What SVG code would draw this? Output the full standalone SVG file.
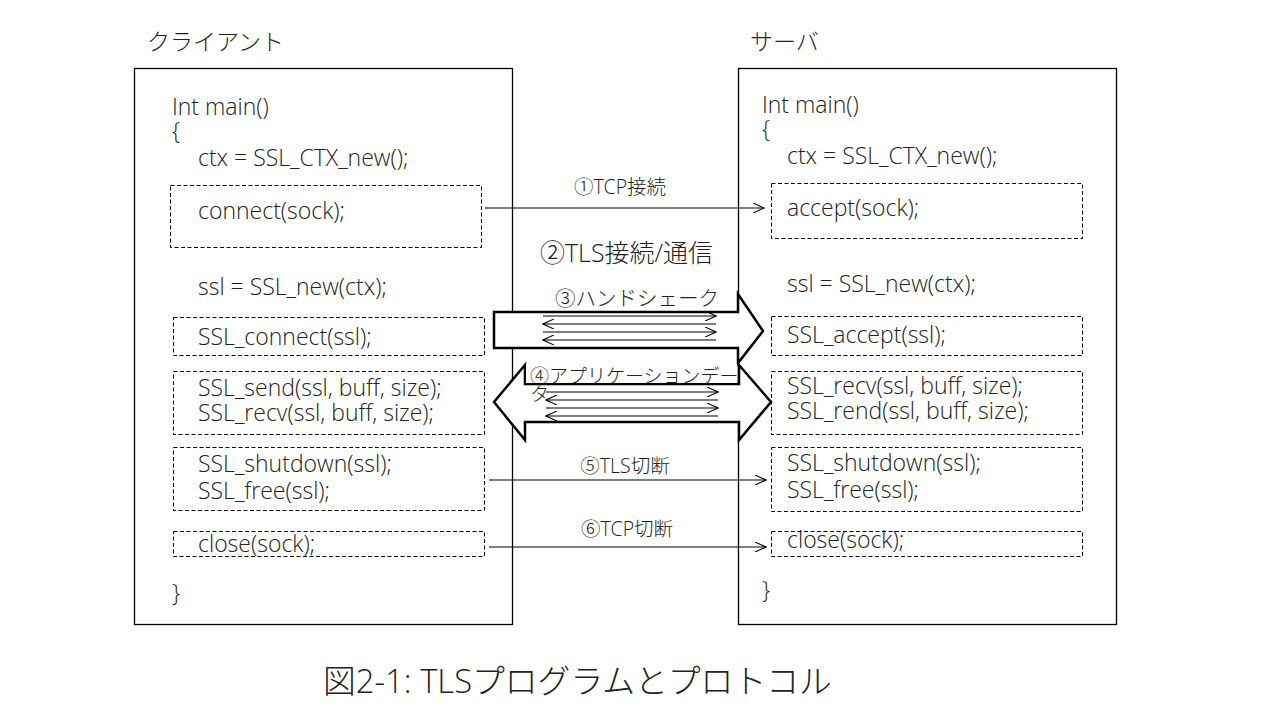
<svg xmlns="http://www.w3.org/2000/svg" width="1280" height="720" viewBox="0 0 1280 720">
<defs>
<style>
text{font-family:"Open Sans","Noto Sans CJK JP",sans-serif;fill:#222;font-weight:300}
.code{font-size:23px}
.lbl{font-size:19.5px}
.box{fill:#fff;stroke:#000;stroke-width:1.3}
.dash{fill:none;stroke:#000;stroke-width:1;stroke-dasharray:4 2.5}
.ln{stroke:#000;stroke-width:1.2;fill:none}
.blk{fill:#fff;stroke:#000;stroke-width:2.5;stroke-linejoin:miter}
</style>
<marker id="oa" markerWidth="12" markerHeight="10" refX="11" refY="5" orient="auto" markerUnits="userSpaceOnUse">
<path d="M0,0 L11,5 L0,10" fill="none" stroke="#000" stroke-width="1.1"/>
</marker>
</defs>
<rect width="1280" height="720" fill="#fff"/>

<text x="147" y="50" style="font-size:23px">クライアント</text>
<text x="750" y="50" style="font-size:23px">サーバ</text>

<g id="client">
<rect class="box" x="134.5" y="68.5" width="378" height="556"/>
<text class="code" x="172" y="115">Int main()</text>
<text class="code" x="172" y="139">{</text>
<text class="code" x="198" y="166">ctx = SSL_CTX_new();</text>
<g id="c-connect"><rect class="dash" x="170.5" y="185.5" width="311" height="62"/><text class="code" x="198" y="219">connect(sock);</text></g>
<text class="code" x="198" y="295">ssl = SSL_new(ctx);</text>
<g id="c-sslconnect"><rect class="dash" x="173.5" y="317.5" width="311" height="38"/><text class="code" x="198" y="345">SSL_connect(ssl);</text></g>
<g id="c-sendrecv"><rect class="dash" x="173.5" y="371.5" width="311" height="63"/><text class="code" x="198" y="396">SSL_send(ssl, buff, size);</text><text class="code" x="198" y="421">SSL_recv(ssl, buff, size);</text></g>
<g id="c-shutdown"><rect class="dash" x="173.5" y="447.5" width="311" height="63"/><text class="code" x="198" y="472">SSL_shutdown(ssl);</text><text class="code" x="198" y="499">SSL_free(ssl);</text></g>
<g id="c-close"><rect class="dash" x="173.5" y="531.5" width="311" height="25"/><text class="code" x="198" y="552">close(sock);</text></g>
<text class="code" x="172" y="601">}</text>
</g>

<g id="server">
<rect class="box" x="738.5" y="68.5" width="378" height="556"/>
<text class="code" x="762" y="113">Int main()</text>
<text class="code" x="762" y="137">{</text>
<text class="code" x="787" y="164">ctx = SSL_CTX_new();</text>
<g id="s-accept"><rect class="dash" x="771.5" y="183.5" width="311" height="55"/><text class="code" x="787" y="216">accept(sock);</text></g>
<text class="code" x="787" y="292">ssl = SSL_new(ctx);</text>
<g id="s-sslaccept"><rect class="dash" x="771.5" y="316.5" width="311" height="39"/><text class="code" x="787" y="343">SSL_accept(ssl);</text></g>
<g id="s-recvrend"><rect class="dash" x="771.5" y="371.5" width="311" height="63"/><text class="code" x="787" y="394">SSL_recv(ssl, buff, size);</text><text class="code" x="787" y="419">SSL_rend(ssl, buff, size);</text></g>
<g id="s-shutdown"><rect class="dash" x="771.5" y="447.5" width="311" height="64"/><text class="code" x="787" y="471">SSL_shutdown(ssl);</text><text class="code" x="787" y="498">SSL_free(ssl);</text></g>
<g id="s-close"><rect class="dash" x="771.5" y="531.5" width="311" height="25"/><text class="code" x="787" y="548">close(sock);</text></g>
<text class="code" x="762" y="598">}</text>
</g>

<g id="connectors">
<line class="ln" x1="485" y1="208" x2="764" y2="208" marker-end="url(#oa)"/>
<text class="lbl" x="620" y="194" text-anchor="middle">①TCP接続</text>
<text x="540" y="262" style="font-size:25px">②TLS接続/通信</text>

<g id="handshake">
<path class="blk" d="M494,312 L738,312 L738,294 L763,331 L738,363 L738,348 L494,348 Z"/>
<text x="555" y="306" style="font-size:20.5px">③ハンドシェーク</text>
<line class="ln" x1="543" y1="316" x2="716" y2="316" marker-end="url(#oa)"/>
<line class="ln" x1="716" y1="324" x2="543" y2="324" marker-end="url(#oa)"/>
<line class="ln" x1="543" y1="332" x2="716" y2="332" marker-end="url(#oa)"/>
<line class="ln" x1="716" y1="340" x2="543" y2="340" marker-end="url(#oa)"/>
</g>

<g id="appdata">
<path class="blk" d="M494,402 L525,365 L525,384 L739,384 L739,365 L771,402 L739,440 L739,422 L525,422 L525,440 Z"/>
<rect x="526" y="364" width="211" height="19" fill="#fff"/>
<text x="530" y="383" style="font-size:19px">④アプリケーションデー</text>
<text x="530" y="401" style="font-size:19px">タ</text>
<line class="ln" x1="546" y1="392" x2="718" y2="392" marker-end="url(#oa)"/>
<line class="ln" x1="718" y1="400" x2="546" y2="400" marker-end="url(#oa)"/>
<line class="ln" x1="546" y1="408" x2="718" y2="408" marker-end="url(#oa)"/>
<line class="ln" x1="718" y1="416" x2="546" y2="416" marker-end="url(#oa)"/>
</g>

<line class="ln" x1="489" y1="480" x2="766" y2="480" marker-end="url(#oa)"/>
<text class="lbl" x="625" y="473" text-anchor="middle">⑤TLS切断</text>
<line class="ln" x1="489" y1="547" x2="766" y2="547" marker-end="url(#oa)"/>
<text class="lbl" x="627" y="536" text-anchor="middle">⑥TCP切断</text>
</g>

<text x="323" y="693" style="font-size:32.8px">図2-1: TLSプログラムとプロトコル</text>
</svg>
